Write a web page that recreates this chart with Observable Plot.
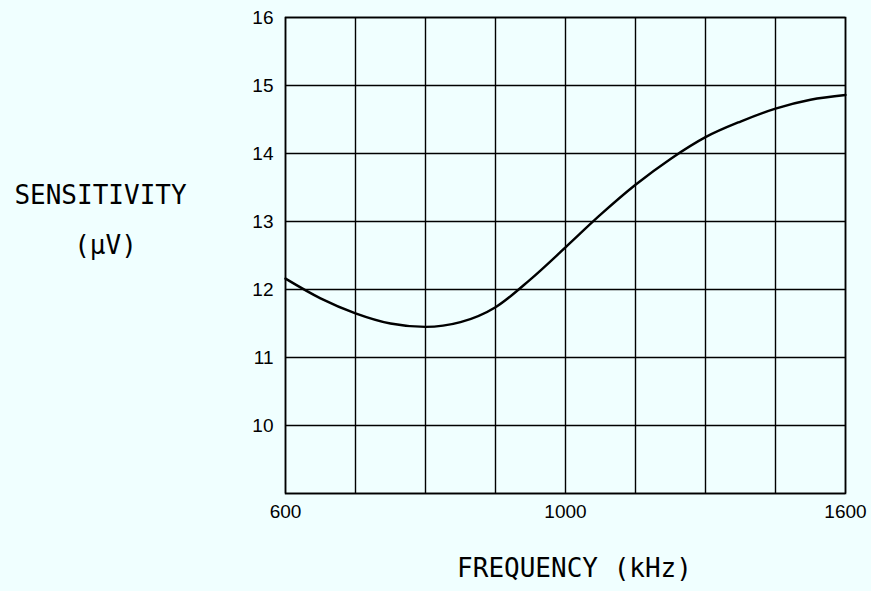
<!DOCTYPE html>
<html>
<head>
<meta charset="utf-8">
<script src="https://cdn.jsdelivr.net/npm/d3@7"></script>
<script src="https://cdn.jsdelivr.net/npm/@observablehq/plot@0.6"></script>
<style>
  html, body { margin: 0; padding: 0; background: #f0ffff; }
  #chart { width: 871px; height: 591px; }
</style>
</head>
<body>
<div id="chart"></div>
<script>
// Data
const frequency = [600, 650, 700, 750, 800, 850, 900, 950, 1000, 1075, 1150, 1225, 1300, 1375, 1450, 1525, 1600];
const sensitivity = [12.16, 11.87, 11.65, 11.5, 11.45, 11.52, 11.74, 12.15, 12.62, 13.1, 13.54, 13.92, 14.24, 14.47, 14.66, 14.79, 14.86];
const xGridValues = [600, 700, 800, 900, 1000, 1150, 1300, 1450, 1600];
const xTickLabels = [600, 1000, 1600];
const yGridValues = [9, 10, 11, 12, 13, 14, 15, 16];
const yTickLabels = [10, 11, 12, 13, 14, 15, 16];
const yTitle = "SENSITIVITY";
const yUnit = "(µV)";
const xTitle = "FREQUENCY (kHz)";

const data = frequency.map((f, i) => ({f, s: sensitivity[i]}));

const W = 871, H = 591;
const mL = 285, mR = 26, mT = 17, mB = 98;
const titleFont = "'DejaVu Sans Mono', monospace";
const tickFont = "'Liberation Sans', Arial, sans-serif";

const chart = Plot.plot({
  width: W,
  height: H,
  marginLeft: mL,
  marginRight: mR,
  marginTop: mT,
  marginBottom: mB,
  style: {background: "#f0ffff", fontFamily: tickFont, color: "black"},
  x: {type: "linear", domain: [600, 1000, 1600], range: [mL, (mL + W - mR) / 2, W - mR], axis: null},
  y: {domain: [9, 16], axis: null},
  marks: [
    Plot.ruleX(xGridValues, {stroke: "black", strokeWidth: 1.4}),
    Plot.ruleY(yGridValues, {stroke: "black", strokeWidth: 1.4}),
    Plot.frame({stroke: "black", strokeWidth: 1.6}),
    Plot.line(data, {x: "f", y: "s", curve: "monotone-x", stroke: "black", strokeWidth: 2.4}),
    Plot.text(xTickLabels, {x: d => d, frameAnchor: "bottom", dy: 24, text: d => String(d), fontFamily: tickFont, fontSize: 19, fill: "black"}),
    Plot.text(yTickLabels, {y: d => d, frameAnchor: "left", dx: -12, textAnchor: "end", text: d => String(d), fontFamily: tickFont, fontSize: 19, fill: "black"}),
    Plot.text([yTitle], {frameAnchor: "left", textAnchor: "middle", dx: -185, dy: -60, fontFamily: titleFont, fontSize: 26, fill: "black"}),
    Plot.text([yUnit], {frameAnchor: "left", textAnchor: "middle", dx: -180, dy: -10, fontFamily: titleFont, fontSize: 26, fill: "black"}),
    Plot.text([xTitle], {frameAnchor: "bottom", textAnchor: "middle", dx: 9, dy: 83, fontFamily: titleFont, fontSize: 26, fill: "black"})
  ]
});
document.getElementById("chart").appendChild(chart);
</script>
</body>
</html>
